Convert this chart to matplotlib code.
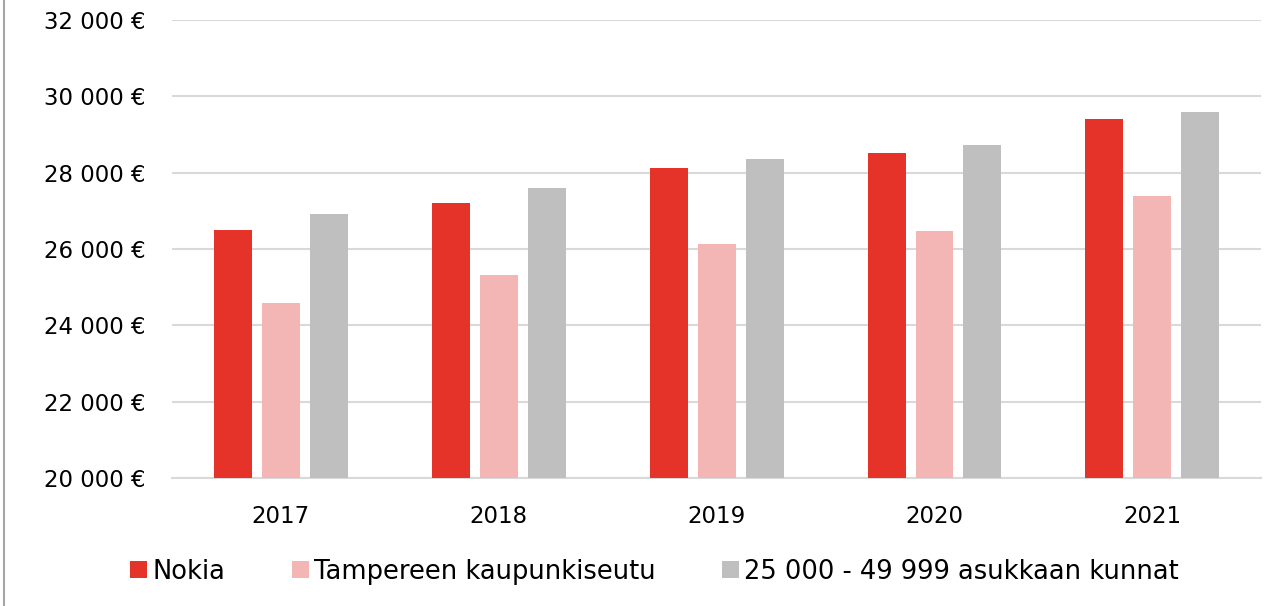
import numpy as np
import matplotlib.pyplot as plt
from matplotlib.lines import Line2D

years = ["2017", "2018", "2019", "2020", "2021"]
nokia = [26500, 27200, 28120, 28510, 29400]
tampere = [24580, 25320, 26130, 26470, 27390]
kunnat = [26920, 27600, 28360, 28720, 29590]
series_names = ["Nokia", "Tampereen kaupunkiseutu", "25 000 - 49 999 asukkaan kunnat"]
colors = ["#E5332A", "#F4B6B4", "#BFBFBF"]

plt.rcParams["font.family"] = ["DejaVu Sans"]

fig = plt.figure(figsize=(12.74, 6.06), dpi=100)
ax = fig.add_axes([0.135, 0.211, 0.855, 0.756])

x = np.arange(len(years))
w = 0.174
step = 0.22
for k, (vals, name, c) in enumerate(zip([nokia, tampere, kunnat], series_names, colors)):
    ax.bar(x + (k - 1) * step, [v - 20000 for v in vals], w, bottom=20000,
           color=c, label=name, zorder=3)

ax.set_ylim(20000, 32000)
ax.set_xlim(-0.5, len(years) - 0.5)
ax.set_yticks(range(20000, 32001, 2000))
ax.set_yticklabels([f"{v:,}".replace(",", " ") + " €" for v in range(20000, 32001, 2000)])
ax.set_xticks(x)
ax.set_xticklabels(years)
ax.grid(axis="y", color="#D9D9D9", linewidth=1.5, zorder=0)
for s in ["top", "right", "left"]:
    ax.spines[s].set_visible(False)
ax.spines["bottom"].set_color("#D9D9D9")
ax.spines["bottom"].set_linewidth(1.5)
ax.tick_params(axis="both", length=0, labelsize=16.5, colors="black")
ax.tick_params(axis="y", pad=19)
ax.tick_params(axis="x", pad=19)

ax.legend(loc="upper center", bbox_to_anchor=(0.443, -0.125), ncol=3, frameon=False,
          fontsize=18.5, handlelength=0.65, handleheight=0.65, handletextpad=0.2,
          columnspacing=2.6)

fig.add_artist(Line2D([0.003, 0.003], [0, 1], color="#A6A6A6", linewidth=1.5,
                      transform=fig.transFigure))

fig.savefig("out.png", dpi=100)
